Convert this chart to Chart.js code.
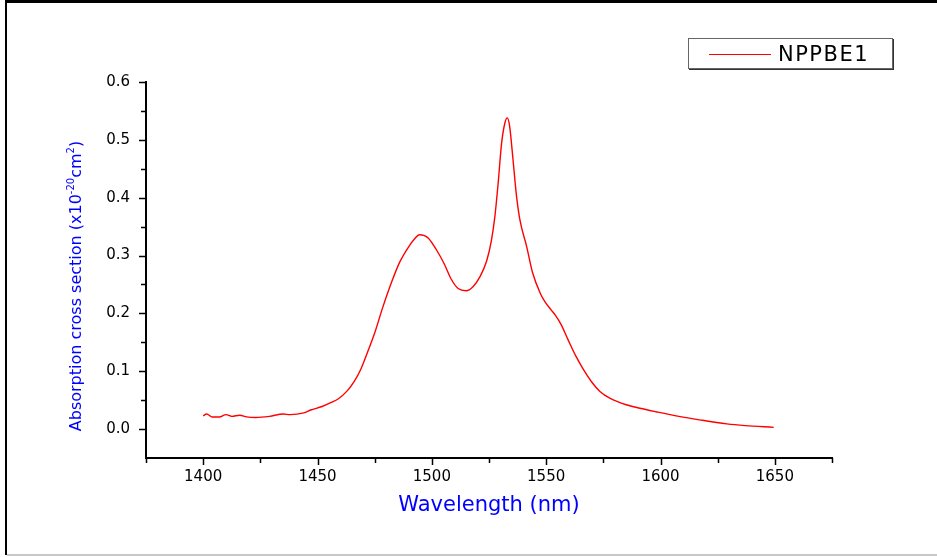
<!DOCTYPE html>
<html>
<head>
<meta charset="utf-8">
<script src="https://cdn.jsdelivr.net/npm/chart.js@4.4.1/dist/chart.umd.min.js"></script>
<style>
  html, body { margin: 0; padding: 0; background: #fff; }
  canvas { display: block; }
</style>
</head>
<body>
<canvas id="spec" width="937" height="557"></canvas>
<script>
'use strict';

// absorption cross section, NPPBE1 sample
const seriesName = 'NPPBE1';
const wavelength = [
  1400, 1401.5, 1404, 1407, 1410, 1412.5, 1416, 1419, 1423, 1429,
  1435, 1438, 1444, 1447, 1452, 1456, 1459, 1463, 1466, 1469,
  1472, 1475, 1478.5, 1482.5, 1486, 1490, 1492.5, 1494.5, 1496.5, 1498.5,
  1502, 1505.5, 1508.5, 1511.5, 1515, 1518, 1521, 1524, 1526, 1527.5,
  1529, 1530.5, 1532, 1533, 1534, 1535.5, 1537, 1538.5, 1541.5, 1544,
  1547.5, 1549.5, 1552, 1554, 1556.5, 1559.5, 1563, 1566, 1570, 1573.5,
  1578, 1585, 1591, 1598, 1608, 1617, 1629, 1637, 1649.5
];
const sigma = [
  0.023, 0.026, 0.021, 0.021, 0.025, 0.022, 0.024, 0.021, 0.020, 0.022,
  0.026, 0.025, 0.028, 0.033, 0.039, 0.046, 0.052, 0.066, 0.082, 0.104,
  0.134, 0.166, 0.210, 0.255, 0.289, 0.316, 0.329, 0.336, 0.335, 0.330,
  0.310, 0.285, 0.259, 0.243, 0.239, 0.246, 0.263, 0.291, 0.325, 0.365,
  0.425, 0.494, 0.530, 0.538, 0.524, 0.466, 0.404, 0.362, 0.315, 0.271,
  0.234, 0.220, 0.207, 0.197, 0.181, 0.155, 0.126, 0.105, 0.081, 0.065,
  0.053, 0.042, 0.036, 0.030, 0.022, 0.016, 0.009, 0.006, 0.003
];
const xMajorTicks = [1400, 1450, 1500, 1550, 1600, 1650];
const yMajorTicks = [0.0, 0.1, 0.2, 0.3, 0.4, 0.5, 0.6];
const xTitle = 'Wavelength (nm)';
const yTitleParts = [
  ['Absorption cross section (x10', false],
  ['-20', true],
  ['cm', false],
  ['2', true],
  [')', false]
];

const FONT = 'DejaVu Sans';
const BLUE = '#0000ff';
const RED = '#ff0000';

const isMajorY = v => yMajorTicks.some(m => Math.abs(m - v) < 1e-6);
const isMajorX = v => xMajorTicks.includes(Math.round(v));

// page frame, outward tick marks, rotated y title with superscripts, boxed legend
const decor = {
  id: 'decor',
  beforeDraw(chart) {
    const ctx = chart.ctx;
    ctx.save();
    ctx.fillStyle = '#fff';
    ctx.fillRect(0, 0, chart.width, chart.height);
    ctx.fillStyle = '#000';
    ctx.fillRect(5, 0, chart.width - 5, 3);
    ctx.fillRect(5, 0, 2, chart.height - 2);
    ctx.fillStyle = '#c8c8c8';
    ctx.fillRect(7, 554, chart.width - 7, 2);
    ctx.restore();
  },
  afterDraw(chart) {
    const ctx = chart.ctx;
    const sx = chart.scales.x, sy = chart.scales.y;
    ctx.save();
    ctx.strokeStyle = '#000';
    ctx.lineWidth = 1.5;
    ctx.beginPath();
    sx.ticks.forEach(t => {
      const px = Math.round(sx.getPixelForValue(t.value)) + 0.5;
      const len = isMajorX(t.value) ? 7 : 5;
      ctx.moveTo(px, sx.top);
      ctx.lineTo(px, sx.top + len);
    });
    sy.ticks.forEach(t => {
      if (t.value < -1e-6) return;
      const py = Math.round(sy.getPixelForValue(t.value)) + 0.5;
      const len = isMajorY(t.value) ? 7 : 5;
      ctx.moveTo(sy.right, py);
      ctx.lineTo(sy.right - len, py);
    });
    ctx.stroke();

    // y title
    const big = '16px "' + FONT + '"', small = '10px "' + FONT + '"';
    let total = 0;
    yTitleParts.forEach(([s, sup]) => { ctx.font = sup ? small : big; total += ctx.measureText(s).width; });
    ctx.translate(81, 286);
    ctx.rotate(-Math.PI / 2);
    ctx.fillStyle = BLUE;
    ctx.textBaseline = 'alphabetic';
    let cx = -total / 2;
    yTitleParts.forEach(([s, sup]) => {
      ctx.font = sup ? small : big;
      ctx.fillText(s, cx, sup ? -7 : 0);
      cx += ctx.measureText(s).width;
    });
    ctx.restore();

    // legend box
    const ds = chart.data.datasets[0];
    ctx.save();
    ctx.strokeStyle = '#666';
    ctx.lineWidth = 1;
    ctx.strokeRect(688.5, 38.5, 204, 30);
    ctx.strokeStyle = '#333';
    ctx.beginPath();
    ctx.moveTo(893.5, 39);
    ctx.lineTo(893.5, 70);
    ctx.moveTo(689, 69.5);
    ctx.lineTo(894, 69.5);
    ctx.stroke();
    ctx.strokeStyle = ds.borderColor;
    ctx.lineWidth = 1;
    ctx.beginPath();
    ctx.moveTo(709, 54.5);
    ctx.lineTo(771, 54.5);
    ctx.stroke();
    ctx.fillStyle = '#000';
    ctx.font = '21px "' + FONT + '"';
    ctx.letterSpacing = '1.5px';
    ctx.textBaseline = 'alphabetic';
    ctx.fillText(ds.label, 778, 61);
    ctx.restore();
  }
};

new Chart(document.getElementById('spec'), {
  type: 'line',
  data: {
    datasets: [{
      label: seriesName,
      data: wavelength.map((w, i) => ({ x: w, y: sigma[i] })),
      borderColor: RED,
      borderWidth: 1.4,
      pointRadius: 0,
      cubicInterpolationMode: 'monotone',
      fill: false
    }]
  },
  options: {
    responsive: false,
    animation: false,
    layout: { padding: { top: 82, right: 105, bottom: 0, left: 0 } },
    plugins: { legend: { display: false }, tooltip: { enabled: false } },
    scales: {
      x: {
        type: 'linear',
        min: 1375, max: 1675,
        afterFit: s => { s.height = 99; },
        grid: { display: false, drawTicks: false },
        border: { display: true, color: '#000', width: 2 },
        ticks: {
          stepSize: 25, autoSkip: false, maxRotation: 0, padding: 10,
          color: '#000', font: { family: FONT, size: 15 },
          callback: v => isMajorX(v) ? String(Math.round(v)) : ''
        },
        title: {
          display: true, text: xTitle, color: BLUE,
          font: { family: FONT, size: 21 },
          padding: { top: 0, bottom: 39 }
        }
      },
      y: {
        min: -0.05, max: 0.6,
        afterFit: s => { s.width = 146; },
        grid: { display: false, drawTicks: false },
        border: { display: true, color: '#000', width: 2 },
        ticks: {
          stepSize: 0.05, autoSkip: false, padding: 16,
          color: '#000', font: { family: FONT, size: 15 },
          callback: v => (v > -1e-6 && isMajorY(v)) ? v.toFixed(1) : ''
        }
      }
    }
  },
  plugins: [decor]
});
</script>
</body>
</html>
